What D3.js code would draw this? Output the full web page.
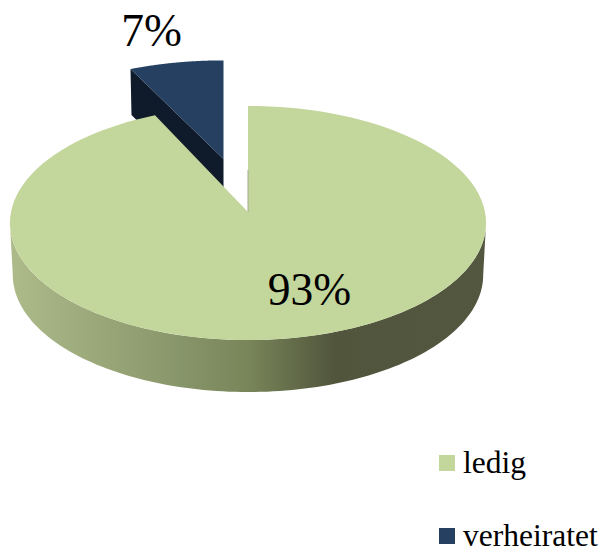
<!DOCTYPE html>
<html>
<head>
<meta charset="utf-8">
<script src="https://cdn.jsdelivr.net/npm/d3@7"></script>
<style>
  html, body { margin:0; padding:0; background:#fff; }
  svg { display:block; }
  text { font-family:"Liberation Serif", serif; fill:#000; }
</style>
</head>
<body>
<svg></svg>
<script>
var width = 602, height = 549;

var categories = ["ledig", "verheiratet"];
var values = [93, 7];
var valueLabels = ["93%", "7%"];
var colors = ["#c3d69b", "#254061"];
var sideColor = "#0f1b2b";

var svg = d3.select("svg").attr("width", width).attr("height", height);

// perspective of the pie plane: far edge is squeezed a bit
var apex = [248, 212], radiusX = 237, radiusY = 116, persp = 0.094, depth = 52;

function project(a, o) {
  o = o || {};
  var w = 1 + persp * Math.cos(a);
  return [
    (o.x || 0) + apex[0] + (o.sx || 1) * radiusX * Math.sin(a) / w,
    (o.y || 0) + apex[1] - (o.sy || 1) * radiusY * Math.cos(a) / w
  ];
}

function arcPoints(a0, a1, o) {
  return d3.range(0, 121).map(function(i) {
    return project(a0 + (a1 - a0) * i / 120, o);
  });
}

var line = d3.line();
var slices = d3.pie().sort(null)(values);
var big = slices[0], small = slices[1];

var defs = svg.append("defs");
var grad = defs.append("linearGradient")
  .attr("id", "wall")
  .attr("gradientUnits", "userSpaceOnUse")
  .attr("x1", 10).attr("x2", 487).attr("y1", 0).attr("y2", 0);
grad.selectAll("stop")
  .data([[0, "#adba8a"], [0.2, "#99a678"], [0.36, "#87956a"], [0.5, "#798559"], [0.68, "#50553c"], [1, "#53573f"]])
  .enter().append("stop")
  .attr("offset", function(d) { return d[0]; })
  .attr("stop-color", function(d) { return d[1]; });

// exploded slice, drawn first because the big slice covers its foot
var moved = { x: -24.5, y: -53, sy: 0.93 };
var movedApex = [apex[0] + moved.x, apex[1] + moved.y];
var corner = project(small.startAngle, moved);

svg.append("path")
  .attr("d", line([corner, movedApex, [movedApex[0], movedApex[1] + 48], [corner[0] + 1, corner[1] + 46]]) + "Z")
  .attr("fill", sideColor);

svg.append("path")
  .attr("d", line([movedApex].concat(arcPoints(small.startAngle, small.endAngle, moved))) + "Z")
  .attr("fill", colors[1]);

// wall of the big slice, between the widest points of the top face
var widest = Math.acos(-persp);
var front = arcPoints(widest, 2 * Math.PI - widest);
var back = arcPoints(2 * Math.PI - widest, widest, { y: depth, sx: 0.988 });
svg.append("path")
  .attr("d", line(front.concat(back)) + "Z")
  .attr("fill", "url(#wall)");

svg.append("path")
  .attr("d", line([apex].concat(arcPoints(big.startAngle, big.endAngle))) + "Z")
  .attr("fill", colors[0]);

// faint inner edge at the cut
svg.append("path")
  .attr("d", line([apex, [apex[0], apex[1] - 42]]))
  .attr("stroke", "#a3a893")
  .attr("stroke-width", 1)
  .attr("fill", "none");

// value labels
var labelPos = [[309.5, 305], [151.5, 46]];
svg.selectAll("text.value")
  .data(valueLabels)
  .enter().append("text")
  .attr("class", "value")
  .attr("x", function(d, i) { return labelPos[i][0]; })
  .attr("y", function(d, i) { return labelPos[i][1]; })
  .attr("text-anchor", "middle")
  .attr("font-size", "45.5px")
  .text(function(d) { return d; });

// legend
var legendY = d3.scalePoint().domain(categories).range([463, 536]);
var legend = svg.selectAll("g.legend")
  .data(categories)
  .enter().append("g")
  .attr("class", "legend")
  .attr("transform", function(d) { return "translate(439," + legendY(d) + ")"; });

legend.append("rect")
  .attr("x", 0).attr("y", -8)
  .attr("width", 16).attr("height", 16)
  .attr("fill", function(d, i) { return colors[i]; });

legend.append("text")
  .attr("x", 24).attr("y", 10)
  .attr("font-size", "31.5px")
  .text(function(d) { return d; });
</script>
</body>
</html>
